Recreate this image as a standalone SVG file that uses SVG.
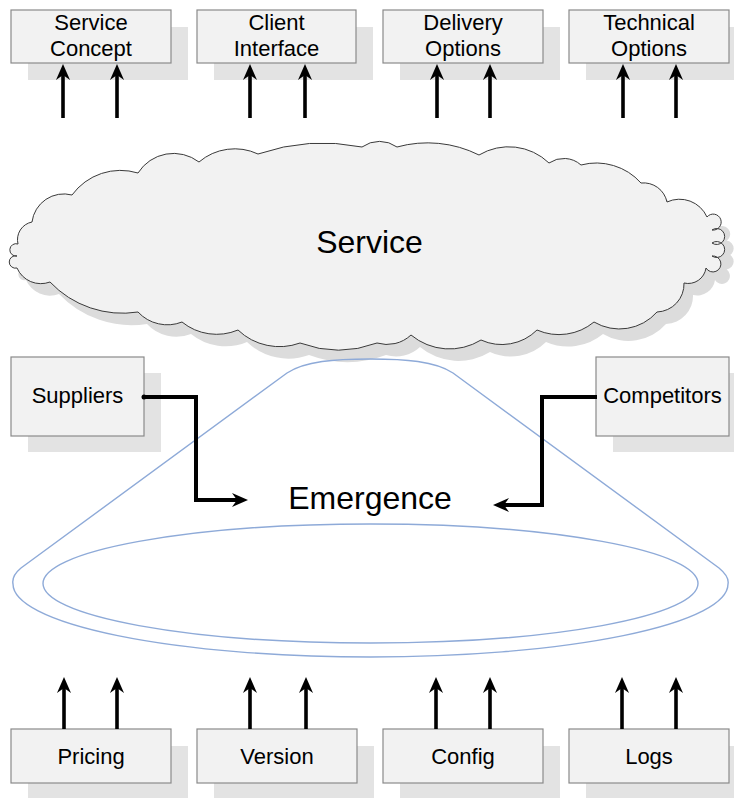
<svg xmlns="http://www.w3.org/2000/svg" width="734" height="798" viewBox="0 0 734 798">
<style>
.box{fill:#f2f2f2;stroke:#8a8a8a;stroke-width:1.2}
.shd{fill:#e3e3e3}
.lbl{font-family:"Liberation Sans",Arial,sans-serif;font-size:22px;fill:#000;text-anchor:middle}
.big{font-family:"Liberation Sans",Arial,sans-serif;font-size:32px;fill:#000;text-anchor:middle}
.arr{fill:none;stroke:#000;stroke-width:3.6;marker-end:url(#ah)}
.con{fill:none;stroke:#000;stroke-width:4;stroke-linejoin:miter;marker-end:url(#ah)}
.blue{fill:none;stroke:#8eaad8;stroke-width:1.4}
</style>
<defs>
<marker id="ah" viewBox="0 0 16 14" refX="6" refY="7" markerWidth="16" markerHeight="14" markerUnits="userSpaceOnUse" orient="auto">
<path d="M0,0 L16,7 L0,14 L5,7 Z" fill="#000"/>
</marker>
<path id="cloudPath" d="M138 173 A42 42 0 0 1 199 162 A55 55 0 0 1 258 154 A200 200 0 0 1 362 147 A30 30 0 0 1 397 147 A115 115 0 0 1 479 155 A58 58 0 0 1 549 163 A26 26 0 0 1 581 165 A60 60 0 0 1 641 183 A24 24 0 0 1 667 202 A30 30 0 0 1 707 217 A8 8 0 1 1 712 230 A8 8 0 1 1 712 243 A8 8 0 1 1 712 256 A8 8 0 1 1 706 268 A18 18 0 0 1 684 283 A28 28 0 0 1 657 312 A50 50 0 0 1 594 322 A55 55 0 0 1 537 330 A50 50 0 0 1 481 340 A60 60 0 0 1 411 335 A35 35 0 0 1 377 343 A110 110 0 0 1 300 343 A60 60 0 0 1 238 330 A55 55 0 0 1 182 322 A40 40 0 0 1 138 312 A100 100 0 0 1 50 282 A26 26 0 0 1 17 268 A6.2 6.2 0 1 1 17 256 A6.2 6.2 0 1 1 18 244 A18 18 0 0 1 32 222 A32 32 0 0 1 72 195 A60 60 0 0 1 138 173 Z"/>
</defs>
<rect width="734" height="798" fill="#fff"/>

<g id="cloud">
<use href="#cloudPath" transform="translate(9,12)" fill="#dcdcdc"/>
<use href="#cloudPath" fill="#f2f2f2" stroke="#3a3a3a" stroke-width="1"/>
<text class="big" x="369.5" y="253">Service</text>
</g>

<g id="emergence">
<path class="blue" d="M287 373 C305 361 335 359 370 359 C405 359 435 361 453 373 L719 568 C725 573 729 579 728 584 A357.5 73 0 0 1 13 584 C12 579 15 573 21 568 Z"/>
<ellipse class="blue" cx="370.5" cy="583.5" rx="327.5" ry="59.5"/>
<text class="big" x="370" y="509">Emergence</text>
</g>

<g id="service-concept">
<rect class="shd" x="28" y="27" width="160" height="53"/>
<rect class="box" x="11" y="10" width="160" height="53"/>
<text class="lbl" x="91" y="30">Service</text>
<text class="lbl" x="91" y="56">Concept</text>
</g>
<g id="client-interface">
<rect class="shd" x="214" y="27" width="159" height="53"/>
<rect class="box" x="197" y="10" width="159" height="53"/>
<text class="lbl" x="276.5" y="30">Client</text>
<text class="lbl" x="276.5" y="56">Interface</text>
</g>
<g id="delivery-options">
<rect class="shd" x="400" y="27" width="160" height="53"/>
<rect class="box" x="383" y="10" width="160" height="53"/>
<text class="lbl" x="463" y="30">Delivery</text>
<text class="lbl" x="463" y="56">Options</text>
</g>
<g id="technical-options">
<rect class="shd" x="586" y="27" width="160" height="53"/>
<rect class="box" x="569" y="10" width="160" height="53"/>
<text class="lbl" x="649" y="30">Technical</text>
<text class="lbl" x="649" y="56">Options</text>
</g>

<g id="suppliers">
<rect class="shd" x="28" y="373" width="133" height="79"/>
<rect class="box" x="11" y="357" width="133" height="79"/>
<text class="lbl" x="77.5" y="403">Suppliers</text>
</g>
<g id="competitors">
<rect class="shd" x="613" y="373" width="133" height="79"/>
<rect class="box" x="596" y="357" width="133" height="79"/>
<text class="lbl" x="662.5" y="403">Competitors</text>
</g>

<g id="pricing">
<rect class="shd" x="28" y="746" width="160" height="54"/>
<rect class="box" x="11" y="729" width="160" height="54"/>
<text class="lbl" x="91" y="764">Pricing</text>
</g>
<g id="version">
<rect class="shd" x="214" y="746" width="160" height="54"/>
<rect class="box" x="197" y="729" width="160" height="54"/>
<text class="lbl" x="277" y="764">Version</text>
</g>
<g id="config">
<rect class="shd" x="400" y="746" width="160" height="54"/>
<rect class="box" x="383" y="729" width="160" height="54"/>
<text class="lbl" x="463" y="764">Config</text>
</g>
<g id="logs">
<rect class="shd" x="586" y="746" width="160" height="54"/>
<rect class="box" x="569" y="729" width="160" height="54"/>
<text class="lbl" x="649" y="764">Logs</text>
</g>

<g id="connectors">
<path class="arr" d="M63 118 V74"/>
<path class="arr" d="M117 118 V74"/>
<path class="arr" d="M250 118 V74"/>
<path class="arr" d="M305 118 V74"/>
<path class="arr" d="M437 118 V74"/>
<path class="arr" d="M490 118 V74"/>
<path class="arr" d="M623 118 V74"/>
<path class="arr" d="M676 118 V74"/>
<path class="arr" d="M64 729 V687"/>
<path class="arr" d="M117 729 V687"/>
<path class="arr" d="M250 729 V687"/>
<path class="arr" d="M306 729 V687"/>
<path class="arr" d="M436 729 V687"/>
<path class="arr" d="M490 729 V687"/>
<path class="arr" d="M622 729 V687"/>
<path class="arr" d="M676 729 V687"/>
<circle cx="144" cy="397" r="2.5" fill="#000"/>
<path class="con" d="M144 397 H196 V500 H238"/>
<path class="con" d="M597 397 H542 V505 H503"/>
</g>
</svg>
